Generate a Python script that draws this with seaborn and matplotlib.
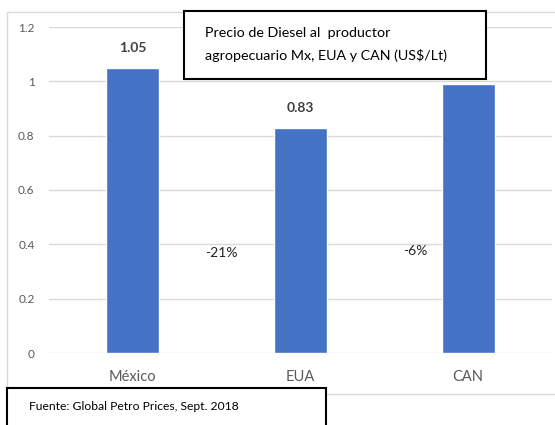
import matplotlib
matplotlib.use("Agg")
import matplotlib.pyplot as plt
import matplotlib.patches as patches
import seaborn as sns
import pandas as pd

# data
paises = ["México", "EUA", "CAN"]
precios = [1.05, 0.83, 0.99]
etiquetas = ["1.05", "0.83", ""]
diferencias = ["-21%", "-6%"]
yticks = [0, 0.2, 0.4, 0.6, 0.8, 1, 1.2]
ytick_labels = ["0", "0.2", "0.4", "0.6", "0.8", "1", "1.2"]

W, H = 555, 425
sns.set_theme(style="white")
plt.rcParams["font.family"] = ["Lato", "DejaVu Sans"]

fig = plt.figure(figsize=(W / 100, H / 100), dpi=100)
ax = fig.add_axes([48.5 / W, 1 - 353 / H, (552 - 48.5) / W, (353 - 27) / H])

df = pd.DataFrame({"pais": paises, "precio": precios})
sns.barplot(data=df, x="pais", y="precio", color="#4472C4", saturation=1,
            width=0.315, ax=ax, zorder=3)

ax.set_ylim(0, 1.2)
ax.set_xlim(-0.5, 2.5)
ax.set_yticks(yticks)
ax.set_yticklabels(ytick_labels)
ax.grid(axis="y", color="#D9D9D9", lw=1, zorder=0)
ax.set_axisbelow(True)
for s in ax.spines.values():
    s.set_visible(False)
ax.set_xlabel("")
ax.set_ylabel("")
ax.tick_params(axis="y", length=0, labelsize=8.5, labelcolor="#595959", pad=10)
ax.tick_params(axis="x", length=0, labelsize=10.5, labelcolor="#595959", pad=12)

for i, (v, t) in enumerate(zip(precios, etiquetas)):
    if t:
        ax.text(i, v + 0.05, t, ha="center", va="bottom", fontsize=10,
                fontweight="bold", color="#404040")

# percentage differences
fig.text(221 / W, 1 - 253 / H, diferencias[0], ha="center", va="center",
         fontsize=10, color="#222222")
fig.text(415 / W, 1 - 251 / H, diferencias[1], ha="center", va="center",
         fontsize=10, color="#222222")

# outer chart border
fig.patches.append(patches.Rectangle((7 / W, 1 - 394 / H), 1.0, 382 / H,
                                     transform=fig.transFigure, fill=False,
                                     edgecolor="#D9D9D9", lw=1))

# title box
fig.patches.append(patches.Rectangle((184 / W, 1 - 79 / H), (486 - 184) / W, 68 / H,
                                     transform=fig.transFigure, facecolor="white",
                                     edgecolor="black", lw=1.5, zorder=5))
fig.text(205 / W, 1 - 33 / H, "Precio de Diesel al  productor", fontsize=10.3,
         va="center", ha="left", color="black", zorder=6)
fig.text(205 / W, 1 - 56 / H, "agropecuario Mx, EUA y CAN (US$/Lt)", fontsize=10.3,
         va="center", ha="left", color="black", zorder=6)

# source box
fig.patches.append(patches.Rectangle((7 / W, -0.02), (326 - 7) / W, (H - 388) / H + 0.02,
                                     transform=fig.transFigure, facecolor="white",
                                     edgecolor="black", lw=1.5, zorder=5))
fig.text(29 / W, 1 - 407 / H, "Fuente: Global Petro Prices, Sept. 2018", fontsize=8.75,
         va="center", ha="left", color="black", zorder=6)

fig.savefig("out.png", dpi=100)
